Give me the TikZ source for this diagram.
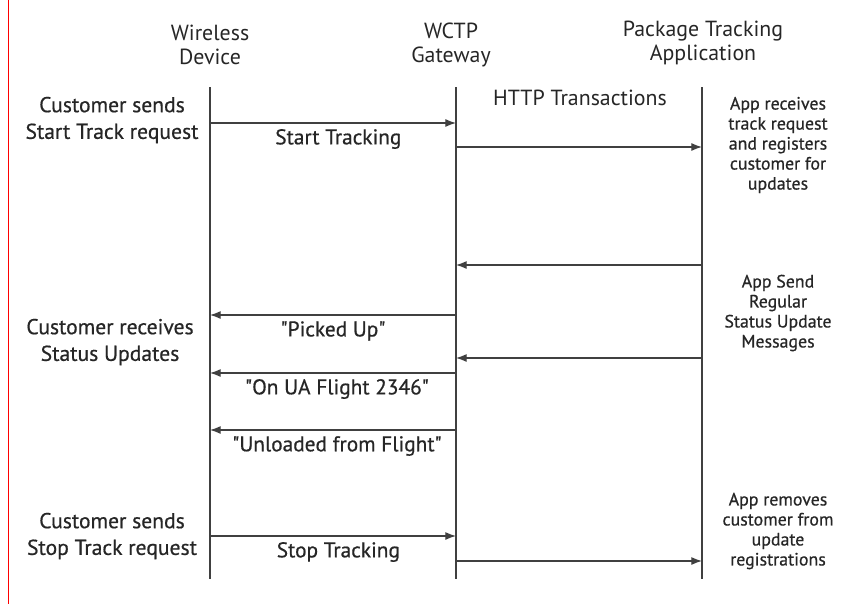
\documentclass[tikz,border=0pt]{standalone}
\usepackage{fontspec}
\setmainfont{PT Sans}
\newfontfamily\notefont{PT Sans}[FakeBold=0.6]
\usetikzlibrary{arrows.meta}

\tikzset{
  lifeline/.style={draw=black!75,line width=0.9pt},
  msg/.style={draw=black!75,line width=0.9pt,-{Latex[length=8pt,width=6pt]}},
  actor/.style={align=center,text=black!85,font=\fontsize{16.4}{18.5}\selectfont},
  usernote/.style={align=center,text=black!85,font=\notefont\fontsize{16.2}{20}\selectfont},
  appnote/.style={align=center,text=black!85,font=\notefont\fontsize{13.4}{15}\selectfont},
  msglabel/.style={midway,yshift=-12pt,text=black!85,font=\notefont\fontsize{16}{18}\selectfont}
}

\begin{document}
\begin{tikzpicture}[x=0.75pt,y=-0.75pt]
		\useasboundingbox (0,0) rectangle (861,604);
		\draw[red,line width=1pt] (8.5,0) -- (8.5,604);

		% participants
		\node[actor] (wd) at (210,45) {Wireless\\Device};
		\node[actor] (gw) at (451,45) {WCTP\\Gateway};
		\node[actor] (pa) at (703,43) {Package Tracking\\Application};

		% lifelines
		\coordinate (wdtop) at (210,87);
		\coordinate (wdbot) at (210,579);
		\coordinate (gwtop) at (456,87);
		\coordinate (gwbot) at (456,579);
		\coordinate (patop) at (702,87);
		\coordinate (pabot) at (702,579);
		\draw[lifeline] (wdtop) -- (wdbot);
		\draw[lifeline] (gwtop) -- (gwbot);
		\draw[lifeline] (patop) -- (pabot);

		% message end points
		\foreach \n/\y in {a/123,b/147,c/265,d/315,e/358,f/373,g/430,h/536,i/561} {
			\coordinate (wd-\n) at (210,\y);
			\coordinate (gw-\n) at (456,\y);
			\coordinate (pa-\n) at (702,\y);
		}

		% notes
		\node[usernote] (start) at (112,120) {Customer sends\\Start Track request};
		\node[usernote] (recv) at (110,342) {Customer receives\\Status Updates};
		\node[usernote] (stop) at (112,536) {Customer sends\\Stop Track request};
		\node[actor] (http) at (580,98) {HTTP Transactions};
		\node[appnote] (register) at (778,145) {App receives\\track request\\and registers\\customer for\\updates};
		\node[appnote] (status) at (778,313) {App Send\\Regular\\Status Update\\Messages};
		\node[appnote] (remove) at (778,531) {App removes\\customer from\\update\\registrations};

		% messages
		\draw[msg] (wd-a) -- (gw-a) node[msglabel,xshift=4pt] {Start Tracking};
		\draw[msg] (gw-b) -- (pa-b);
		\draw[msg] (pa-c) -- (gw-c);
		\draw[msg] (gw-d) -- (wd-d) node[msglabel] {\textquotedbl Picked Up\textquotedbl};
		\draw[msg] (pa-e) -- (gw-e);
		\draw[msg] (gw-f) -- (wd-f) node[msglabel,xshift=3pt] {\textquotedbl On UA Flight 2346\textquotedbl};
		\draw[msg] (gw-g) -- (wd-g) node[msglabel,xshift=3pt] {\textquotedbl Unloaded from Flight\textquotedbl};
		\draw[msg] (wd-h) -- (gw-h) node[msglabel,xshift=4pt] {Stop Tracking};
		\draw[msg] (gw-i) -- (pa-i);
	\end{tikzpicture}
\end{document}
